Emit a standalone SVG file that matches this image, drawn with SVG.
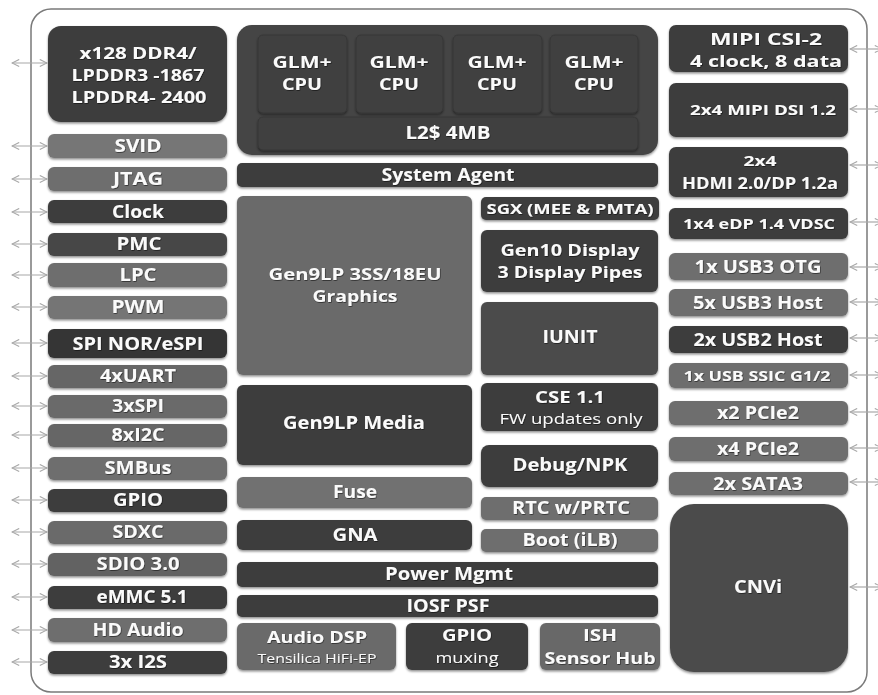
<svg xmlns="http://www.w3.org/2000/svg" width="878" height="695" viewBox="0 0 878 695">
<defs>
<filter id="sh" x="-10%" y="-20%" width="120%" height="150%">
<feDropShadow dx="0" dy="1.5" stdDeviation="1.2" flood-color="#000" flood-opacity="0.45"/>
</filter>
<filter id="ts" x="-5%" y="-20%" width="110%" height="150%">
<feDropShadow dx="0.6" dy="0.8" stdDeviation="0.4" flood-color="#000" flood-opacity="0.6"/>
</filter>
<marker id="ah" viewBox="0 0 10 10" refX="9" refY="5" markerWidth="9" markerHeight="9" markerUnits="userSpaceOnUse" orient="auto-start-reverse">
<path d="M1,1 L9,5 L1,9" fill="none" stroke="#a8a8a8" stroke-width="1.2"/>
</marker>
</defs>
<style>
.dk{fill:#3d3d3d;filter:url(#sh)}
.md{fill:#6e6e6e;filter:url(#sh)}
.mx{fill:#4c4c4c;filter:url(#sh)}
text{font-family:"Open Sans","Liberation Sans",sans-serif;font-weight:bold;fill:#fafafa;text-anchor:middle;filter:url(#ts)}
.t{font-size:18px}
.m{font-size:16px}
.s{font-size:15px}
.n{font-size:14px;font-weight:normal}
.c line{stroke:#a8a8a8;stroke-width:1.2;marker-start:url(#ah);marker-end:url(#ah)}
</style>
<rect id="frame" x="31" y="9" width="836" height="683" rx="20" fill="#fff" stroke="#7a7a7a" stroke-width="1.5"/>

<g class="c" id="connectors">
<line x1="12" y1="63" x2="47" y2="63"/>
<line x1="12" y1="146" x2="47" y2="146"/>
<line x1="12" y1="179" x2="47" y2="179"/>
<line x1="12" y1="212" x2="47" y2="212"/>
<line x1="12" y1="244" x2="47" y2="244"/>
<line x1="12" y1="275" x2="47" y2="275"/>
<line x1="12" y1="307" x2="47" y2="307"/>
<line x1="12" y1="343" x2="47" y2="343"/>
<line x1="12" y1="376" x2="47" y2="376"/>
<line x1="12" y1="406" x2="47" y2="406"/>
<line x1="12" y1="435" x2="47" y2="435"/>
<line x1="12" y1="468" x2="47" y2="468"/>
<line x1="12" y1="500" x2="47" y2="500"/>
<line x1="12" y1="532" x2="47" y2="532"/>
<line x1="12" y1="564" x2="47" y2="564"/>
<line x1="12" y1="597" x2="47" y2="597"/>
<line x1="12" y1="630" x2="47" y2="630"/>
<line x1="12" y1="662" x2="47" y2="662"/>
<line x1="850" y1="49" x2="882" y2="49"/>
<line x1="850" y1="109" x2="882" y2="109"/>
<line x1="850" y1="165" x2="882" y2="165"/>
<line x1="850" y1="222" x2="882" y2="222"/>
<line x1="850" y1="267" x2="882" y2="267"/>
<line x1="850" y1="302" x2="882" y2="302"/>
<line x1="850" y1="338" x2="882" y2="338"/>
<line x1="850" y1="375" x2="882" y2="375"/>
<line x1="850" y1="412" x2="882" y2="412"/>
<line x1="850" y1="448" x2="882" y2="448"/>
<line x1="850" y1="482" x2="882" y2="482"/>
<line x1="850" y1="587" x2="882" y2="587"/>
</g>

<!-- left column -->
<g id="ddr"><rect class="dk" x="48" y="26" width="179" height="96" rx="13"/>
<text class="m" x="138" y="59" textLength="117" lengthAdjust="spacingAndGlyphs">x128 DDR4/</text>
<text class="m" x="138" y="81" textLength="133" lengthAdjust="spacingAndGlyphs">LPDDR3 -1867</text>
<text class="m" x="139" y="103" textLength="135" lengthAdjust="spacingAndGlyphs">LPDDR4- 2400</text></g>
<g id="svid"><rect class="md" x="48" y="134" width="179" height="24" rx="6" style="fill:#767676"/><text class="t" x="138" y="152" textLength="47" lengthAdjust="spacingAndGlyphs">SVID</text></g>
<g id="jtag"><rect class="md" x="48" y="167" width="179" height="24" rx="6"/><text class="t" x="138" y="185" textLength="50" lengthAdjust="spacingAndGlyphs">JTAG</text></g>
<g id="clock"><rect class="dk" x="48" y="200" width="179" height="23" rx="6"/><text class="t" x="138" y="218" textLength="52" lengthAdjust="spacingAndGlyphs">Clock</text></g>
<g id="pmc"><rect class="dk" x="48" y="233" width="179" height="23" rx="6" style="fill:#464646"/><text class="t" x="139" y="250" textLength="45" lengthAdjust="spacingAndGlyphs">PMC</text></g>
<g id="lpc"><rect class="md" x="48" y="263" width="179" height="24" rx="6"/><text class="t" x="138" y="281" textLength="37" lengthAdjust="spacingAndGlyphs">LPC</text></g>
<g id="pwm"><rect class="md" x="48" y="296" width="179" height="23" rx="6" style="fill:#747474"/><text class="t" x="138" y="313" textLength="53" lengthAdjust="spacingAndGlyphs">PWM</text></g>
<g id="spinor"><rect class="dk" x="48" y="329" width="179" height="29" rx="6" style="fill:#343434"/><text class="t" x="138" y="350" textLength="131" lengthAdjust="spacingAndGlyphs">SPI NOR/eSPI</text></g>
<g id="uart"><rect class="md" x="48" y="365" width="179" height="23" rx="6" style="fill:#666"/><text class="t" x="138" y="382" textLength="76" lengthAdjust="spacingAndGlyphs">4xUART</text></g>
<g id="spi3"><rect class="md" x="48" y="395" width="179" height="23" rx="6" style="fill:#6a6a6a"/><text class="t" x="138" y="412" textLength="52" lengthAdjust="spacingAndGlyphs">3xSPI</text></g>
<g id="i2c8"><rect class="md" x="48" y="424" width="179" height="23" rx="6" style="fill:#666"/><text class="t" x="138" y="441" textLength="53" lengthAdjust="spacingAndGlyphs">8xI2C</text></g>
<g id="smbus"><rect class="md" x="48" y="457" width="179" height="23" rx="6"/><text class="t" x="138" y="474" textLength="67" lengthAdjust="spacingAndGlyphs">SMBus</text></g>
<g id="gpio"><rect class="dk" x="48" y="489" width="179" height="23" rx="6"/><text class="t" x="138" y="506" textLength="50" lengthAdjust="spacingAndGlyphs">GPIO</text></g>
<g id="sdxc"><rect class="md" x="48" y="521" width="179" height="23" rx="6" style="fill:#6a6a6a"/><text class="t" x="138" y="538" textLength="51" lengthAdjust="spacingAndGlyphs">SDXC</text></g>
<g id="sdio"><rect class="md" x="48" y="553" width="179" height="23" rx="6" style="fill:#626262"/><text class="t" x="138" y="570" textLength="83" lengthAdjust="spacingAndGlyphs">SDIO 3.0</text></g>
<g id="emmc"><rect class="dk" x="48" y="586" width="179" height="23" rx="6"/><text class="t" x="142" y="603" textLength="91" lengthAdjust="spacingAndGlyphs">eMMC 5.1</text></g>
<g id="hdaudio"><rect class="md" x="48" y="618" width="179" height="24" rx="6"/><text class="t" x="138" y="636" textLength="91" lengthAdjust="spacingAndGlyphs">HD Audio</text></g>
<g id="i2s"><rect class="dk" x="48" y="651" width="179" height="23" rx="6"/><text class="t" x="138" y="668" textLength="58" lengthAdjust="spacingAndGlyphs">3x I2S</text></g>

<!-- CPU cluster -->
<g id="cpucluster"><rect class="dk" x="237" y="25" width="421" height="130" rx="15" style="fill:#444"/>
<g id="cpu1"><rect x="258" y="35" width="89" height="78" rx="5" fill="#414141" stroke="#363636" filter="url(#sh)"/><text class="m" x="302" y="68" textLength="59" lengthAdjust="spacingAndGlyphs">GLM+</text><text class="m" x="302" y="90" textLength="40" lengthAdjust="spacingAndGlyphs">CPU</text></g>
<g id="cpu2"><rect x="356" y="35" width="87" height="78" rx="5" fill="#414141" stroke="#363636" filter="url(#sh)"/><text class="m" x="399" y="68" textLength="59" lengthAdjust="spacingAndGlyphs">GLM+</text><text class="m" x="399" y="90" textLength="40" lengthAdjust="spacingAndGlyphs">CPU</text></g>
<g id="cpu3"><rect x="453" y="35" width="89" height="78" rx="5" fill="#414141" stroke="#363636" filter="url(#sh)"/><text class="m" x="497" y="68" textLength="59" lengthAdjust="spacingAndGlyphs">GLM+</text><text class="m" x="497" y="90" textLength="40" lengthAdjust="spacingAndGlyphs">CPU</text></g>
<g id="cpu4"><rect x="550" y="35" width="88" height="78" rx="5" fill="#414141" stroke="#363636" filter="url(#sh)"/><text class="m" x="594" y="68" textLength="59" lengthAdjust="spacingAndGlyphs">GLM+</text><text class="m" x="594" y="90" textLength="40" lengthAdjust="spacingAndGlyphs">CPU</text></g>
<g id="l2"><rect x="258" y="117" width="380" height="33" rx="5" fill="#414141" stroke="#363636" filter="url(#sh)"/><text class="t" x="448" y="139" textLength="85" lengthAdjust="spacingAndGlyphs">L2$ 4MB</text></g>
</g>
<g id="sysagent"><rect class="dk" x="237" y="163" width="421" height="24" rx="5"/><text class="t" x="448" y="181" textLength="133" lengthAdjust="spacingAndGlyphs">System Agent</text></g>

<!-- middle -->
<g id="graphics"><rect class="md" x="237" y="196" width="235" height="179" rx="6" style="fill:#6b6b6b"/><text class="m" x="355" y="280" textLength="173" lengthAdjust="spacingAndGlyphs">Gen9LP 3SS/18EU</text><text class="m" x="355" y="302" textLength="85" lengthAdjust="spacingAndGlyphs">Graphics</text></g>
<g id="sgx"><rect class="dk" x="481" y="197" width="178" height="23" rx="5"/><text class="s" x="570" y="214" textLength="167" lengthAdjust="spacingAndGlyphs">SGX (MEE &amp; PMTA)</text></g>
<g id="display"><rect class="dk" x="481" y="230" width="177" height="62" rx="6"/><text class="m" x="570" y="256" textLength="139" lengthAdjust="spacingAndGlyphs">Gen10 Display</text><text class="m" x="570" y="278" textLength="145" lengthAdjust="spacingAndGlyphs">3 Display Pipes</text></g>
<g id="iunit"><rect class="mx" x="481" y="302" width="177" height="73" rx="6"/><text class="t" x="570" y="343" textLength="55" lengthAdjust="spacingAndGlyphs">IUNIT</text></g>
<g id="media"><rect class="dk" x="237" y="385" width="235" height="80" rx="6"/><text class="t" x="354" y="429" textLength="142" lengthAdjust="spacingAndGlyphs">Gen9LP Media</text></g>
<g id="cse"><rect class="dk" x="481" y="383" width="177" height="48" rx="6"/><text class="m" x="570" y="403" textLength="70" lengthAdjust="spacingAndGlyphs">CSE 1.1</text><text class="n" x="571" y="424" textLength="143" lengthAdjust="spacingAndGlyphs">FW updates only</text></g>
<g id="debug"><rect class="dk" x="481" y="445" width="177" height="42" rx="8"/><text class="t" x="570" y="471" textLength="115" lengthAdjust="spacingAndGlyphs">Debug/NPK</text></g>
<g id="fuse"><rect class="md" x="237" y="477" width="235" height="31" rx="6" style="fill:#717171"/><text class="t" x="355" y="498" textLength="44" lengthAdjust="spacingAndGlyphs">Fuse</text></g>
<g id="rtc"><rect class="md" x="481" y="497" width="177" height="23" rx="5"/><text class="t" x="571" y="514" textLength="118" lengthAdjust="spacingAndGlyphs">RTC w/PRTC</text></g>
<g id="gna"><rect class="dk" x="237" y="520" width="235" height="30" rx="6"/><text class="t" x="355" y="541" textLength="45" lengthAdjust="spacingAndGlyphs">GNA</text></g>
<g id="boot"><rect class="md" x="481" y="529" width="177" height="23" rx="5"/><text class="t" x="570" y="546" textLength="95" lengthAdjust="spacingAndGlyphs">Boot (iLB)</text></g>
<g id="power"><rect class="dk" x="237" y="562" width="421" height="25" rx="5"/><text class="t" x="449" y="580" textLength="128" lengthAdjust="spacingAndGlyphs">Power Mgmt</text></g>
<g id="iosf"><rect class="dk" x="237" y="595" width="421" height="22" rx="5"/><text class="t" x="448" y="612" textLength="83" lengthAdjust="spacingAndGlyphs">IOSF PSF</text></g>
<g id="audiodsp"><rect class="md" x="237" y="623" width="159" height="47" rx="6" style="fill:#6a6a6a"/><text class="m" x="317" y="643" textLength="100" lengthAdjust="spacingAndGlyphs">Audio DSP</text><text x="317" y="663" style="font-size:12px;font-weight:normal" textLength="119" lengthAdjust="spacingAndGlyphs">Tensilica HiFi-EP</text></g>
<g id="gpiomux"><rect class="dk" x="406" y="623" width="122" height="47" rx="6"/><text class="m" x="467" y="641" textLength="50" lengthAdjust="spacingAndGlyphs">GPIO</text><text class="s" x="467" y="663" style="font-weight:normal" textLength="63" lengthAdjust="spacingAndGlyphs">muxing</text></g>
<g id="ish"><rect class="md" x="540" y="623" width="120" height="47" rx="6" style="fill:#676767"/><text class="m" x="600" y="641" textLength="34" lengthAdjust="spacingAndGlyphs">ISH</text><text class="m" x="600" y="664" textLength="111" lengthAdjust="spacingAndGlyphs">Sensor Hub</text></g>

<!-- right column -->
<g id="csi"><rect class="dk" x="669" y="25" width="179" height="47" rx="7"/><text class="m" x="766" y="45" textLength="112" lengthAdjust="spacingAndGlyphs">MIPI CSI-2</text><text class="m" x="766" y="67" textLength="152" lengthAdjust="spacingAndGlyphs">4 clock, 8 data</text></g>
<g id="dsi"><rect class="dk" x="669" y="83" width="179" height="54" rx="7"/><text class="s" x="763" y="115" textLength="146" lengthAdjust="spacingAndGlyphs">2x4 MIPI DSI 1.2</text></g>
<g id="hdmi"><rect class="dk" x="669" y="147" width="179" height="50" rx="7"/><text class="s" x="760" y="166" textLength="33" lengthAdjust="spacingAndGlyphs">2x4</text><text class="m" x="760" y="189" textLength="156" lengthAdjust="spacingAndGlyphs">HDMI 2.0/DP 1.2a</text></g>
<g id="edp"><rect class="dk" x="669" y="208" width="179" height="31" rx="6"/><text class="s" x="759" y="229" textLength="152" lengthAdjust="spacingAndGlyphs">1x4 eDP 1.4 VDSC</text></g>
<g id="usb3otg"><rect class="md" x="669" y="253" width="179" height="27" rx="6"/><text class="t" x="758" y="273" textLength="127" lengthAdjust="spacingAndGlyphs">1x USB3 OTG</text></g>
<g id="usb3host"><rect class="md" x="669" y="289" width="179" height="27" rx="6"/><text class="t" x="758" y="309" textLength="130" lengthAdjust="spacingAndGlyphs">5x USB3 Host</text></g>
<g id="usb2host"><rect class="dk" x="669" y="326" width="179" height="27" rx="6"/><text class="t" x="758" y="346" textLength="129" lengthAdjust="spacingAndGlyphs">2x USB2 Host</text></g>
<g id="ssic"><rect class="md" x="669" y="363" width="179" height="25" rx="6"/><text class="s" x="757" y="381" textLength="147" lengthAdjust="spacingAndGlyphs">1x USB SSIC G1/2</text></g>
<g id="pcie2x2"><rect class="md" x="669" y="401" width="179" height="24" rx="6"/><text class="t" x="758" y="419" textLength="82" lengthAdjust="spacingAndGlyphs">x2 PCIe2</text></g>
<g id="pcie2x4"><rect class="md" x="669" y="437" width="179" height="24" rx="6"/><text class="t" x="758" y="455" textLength="82" lengthAdjust="spacingAndGlyphs">x4 PCIe2</text></g>
<g id="sata"><rect class="md" x="669" y="472" width="179" height="23" rx="6"/><text class="t" x="758" y="490" textLength="90" lengthAdjust="spacingAndGlyphs">2x SATA3</text></g>
<g id="cnvi"><rect class="mx" x="670" y="504" width="178" height="168" rx="24"/><text class="t" x="758" y="593" textLength="48" lengthAdjust="spacingAndGlyphs">CNVi</text></g>
</svg>
